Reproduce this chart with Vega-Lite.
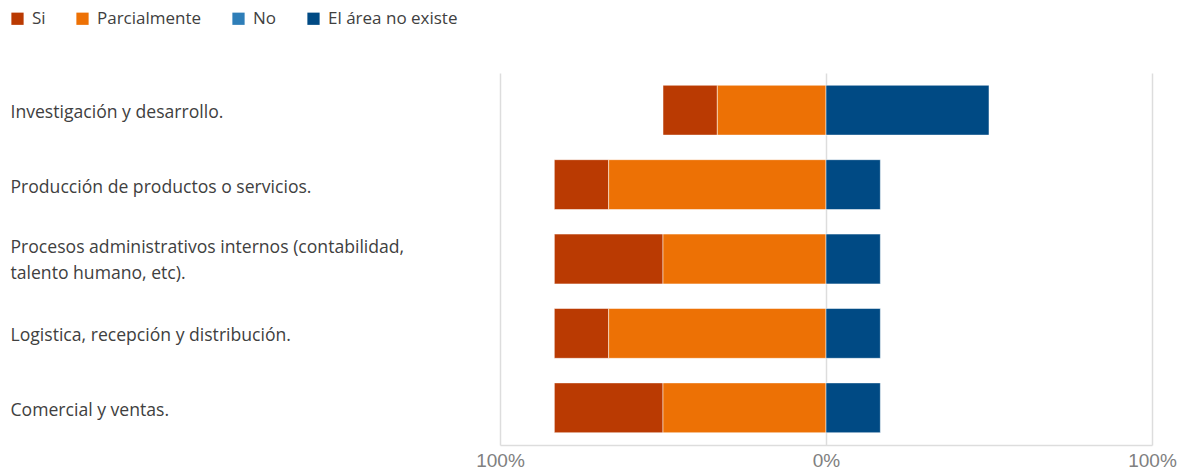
{
  "$schema": "https://vega.github.io/schema/vega-lite/v6.json",
  "width": 652,
  "height": 372,
  "autosize": {"type": "none"},
  "padding": {"left": 500, "top": 73, "right": 36, "bottom": 25},
  "background": "white",
  "config": {
    "view": {"stroke": null},
    "font": "Open Sans"
  },
  "data": {
    "values": [
      {"area": "Investigación y desarrollo.", "respuesta": "Si", "orden": 2, "valor": -16.67},
      {"area": "Investigación y desarrollo.", "respuesta": "Parcialmente", "orden": 1, "valor": -33.33},
      {"area": "Investigación y desarrollo.", "respuesta": "No", "orden": 3, "valor": 0},
      {"area": "Investigación y desarrollo.", "respuesta": "El área no existe", "orden": 4, "valor": 50},
      {"area": "Producción de productos o servicios.", "respuesta": "Si", "orden": 2, "valor": -16.67},
      {"area": "Producción de productos o servicios.", "respuesta": "Parcialmente", "orden": 1, "valor": -66.67},
      {"area": "Producción de productos o servicios.", "respuesta": "No", "orden": 3, "valor": 0},
      {"area": "Producción de productos o servicios.", "respuesta": "El área no existe", "orden": 4, "valor": 16.67},
      {"area": "Procesos administrativos internos (contabilidad, talento humano, etc).", "respuesta": "Si", "orden": 2, "valor": -33.33},
      {"area": "Procesos administrativos internos (contabilidad, talento humano, etc).", "respuesta": "Parcialmente", "orden": 1, "valor": -50},
      {"area": "Procesos administrativos internos (contabilidad, talento humano, etc).", "respuesta": "No", "orden": 3, "valor": 0},
      {"area": "Procesos administrativos internos (contabilidad, talento humano, etc).", "respuesta": "El área no existe", "orden": 4, "valor": 16.67},
      {"area": "Logistica, recepción y distribución.", "respuesta": "Si", "orden": 2, "valor": -16.67},
      {"area": "Logistica, recepción y distribución.", "respuesta": "Parcialmente", "orden": 1, "valor": -66.67},
      {"area": "Logistica, recepción y distribución.", "respuesta": "No", "orden": 3, "valor": 0},
      {"area": "Logistica, recepción y distribución.", "respuesta": "El área no existe", "orden": 4, "valor": 16.67},
      {"area": "Comercial y ventas.", "respuesta": "Si", "orden": 2, "valor": -33.33},
      {"area": "Comercial y ventas.", "respuesta": "Parcialmente", "orden": 1, "valor": -50},
      {"area": "Comercial y ventas.", "respuesta": "No", "orden": 3, "valor": 0},
      {"area": "Comercial y ventas.", "respuesta": "El área no existe", "orden": 4, "valor": 16.67}
    ]
  },
  "transform": [{"filter": "datum.valor != 0"}],
  "mark": {"type": "bar", "stroke": "white", "strokeWidth": 1, "strokeOpacity": 0.5},
  "encoding": {
    "y": {
      "field": "area",
      "type": "nominal",
      "sort": [
        "Investigación y desarrollo.",
        "Producción de productos o servicios.",
        "Procesos administrativos internos (contabilidad, talento humano, etc).",
        "Logistica, recepción y distribución.",
        "Comercial y ventas."
      ],
      "scale": {"paddingInner": 0.33, "paddingOuter": 0.165},
      "axis": {
        "title": null,
        "domain": false,
        "ticks": false,
        "labelAlign": "left",
        "labelBaseline": "middle",
        "labelPadding": 490,
        "labelOffset": {"condition": {"test": "indexof(datum.value, '(contabilidad,') > 0", "value": -11}, "value": 3},
        "labelFontSize": 17.6,
        "labelColor": "#404040",
        "labelLimit": 480,
        "labelLineHeight": 26,
        "labelExpr": "indexof(datum.value, '(contabilidad,') > 0 ? ['Procesos administrativos internos (contabilidad,', 'talento humano, etc).'] : datum.value"
      }
    },
    "x": {
      "field": "valor",
      "type": "quantitative",
      "stack": "zero",
      "scale": {"domain": [-100, 100], "nice": false},
      "axis": {
        "title": null,
        "values": [-100, 0, 100],
        "grid": true,
        "gridColor": "#DDDDDD",
        "gridWidth": 1.5,
        "domain": true,
        "domainColor": "#DDDDDD",
        "domainWidth": 1.5,
        "ticks": false,
        "labelFont": "Liberation Sans",
        "labelFontSize": 19,
        "labelColor": "#808080",
        "labelPadding": 6,
        "labelFlush": false,
        "labelExpr": "abs(datum.value) + '%'"
      }
    },
    "color": {
      "field": "respuesta",
      "type": "nominal",
      "scale": {
        "domain": ["Si", "Parcialmente", "No", "El área no existe"],
        "range": ["#BA3A02", "#ED7105", "#2E7EB8", "#004A84"]
      },
      "legend": {
        "title": null,
        "orient": "none",
        "direction": "horizontal",
        "legendX": -491,
        "legendY": -63,
        "padding": 0,
        "symbolType": "square",
        "symbolSize": 150,
        "symbolStrokeWidth": 0,
        "labelFontSize": 17,
        "labelColor": "#404040",
        "labelOffset": 6,
        "columnPadding": 28
      }
    },
    "order": {"field": "orden", "type": "quantitative"}
  }
}
